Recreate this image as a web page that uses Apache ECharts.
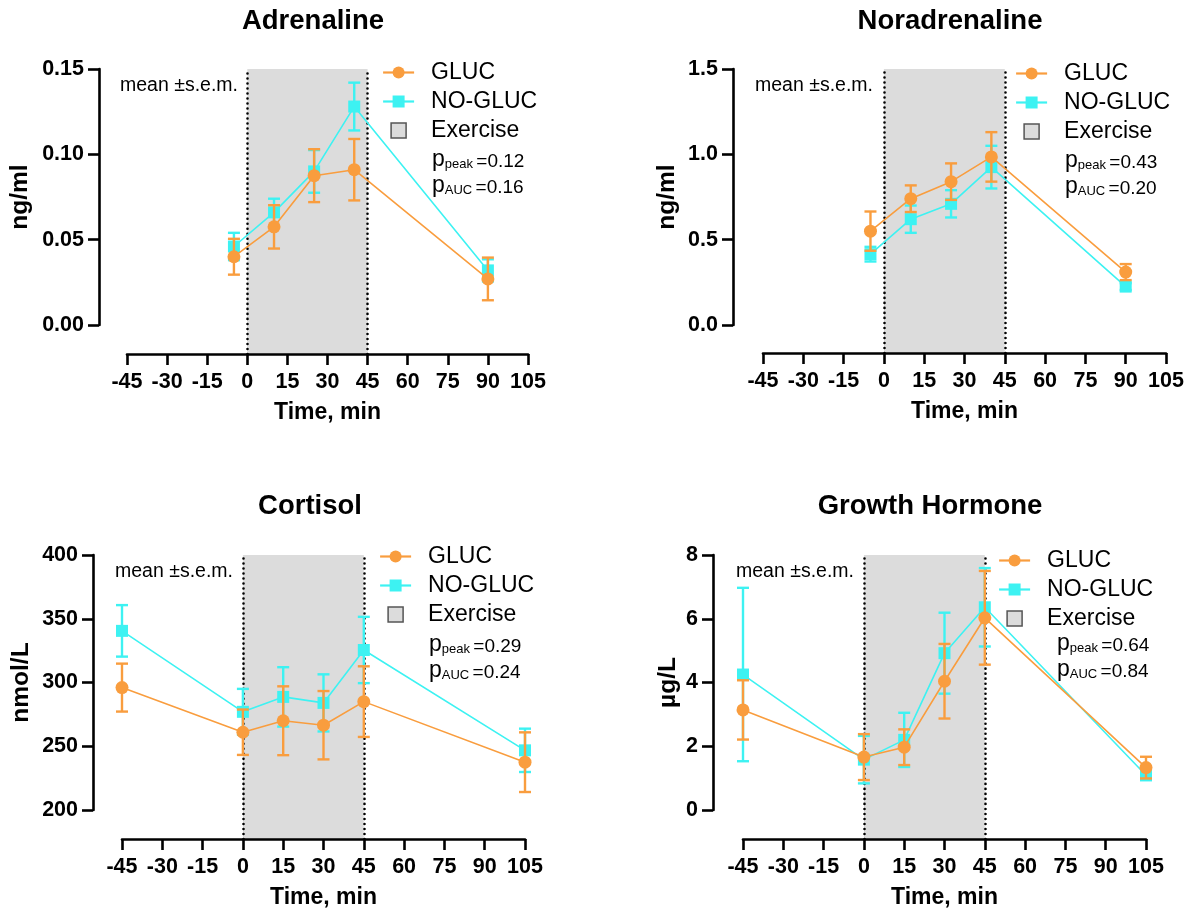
<!DOCTYPE html>
<html><head><meta charset="utf-8">
<script src="https://cdn.jsdelivr.net/npm/echarts@6/dist/echarts.min.js"></script>
<style>html,body{margin:0;padding:0;background:#fff}#c{width:1189px;height:918px}</style>
</head><body><div id="c"></div>
<script>
// ---------- data ----------
const xTicks = [-45, -30, -15, 0, 15, 30, 45, 60, 75, 90, 105];
const exerciseWindow = [0, 45];
const seriesNames = ['GLUC', 'NO-GLUC', 'Exercise'];

const timeCatecholamines = [-5, 10, 25, 40, 90];
const timeHormones = [-45, 0, 15, 30, 45, 105];

const adrTicks = [0, 0.05, 0.10, 0.15];
const adrGluc = [0.040, 0.0575, 0.0875, 0.091, 0.027];
const adrGlucSem = [0.0105, 0.0127, 0.0155, 0.018, 0.0125];
const adrNoGluc = [0.046, 0.066, 0.090, 0.128, 0.032];
const adrNoGlucSem = [0.008, 0.008, 0.0125, 0.014, 0.0065];

const noraTicks = [0, 0.5, 1.0, 1.5];
const noraGluc = [0.55, 0.74, 0.84, 0.985, 0.31];
const noraGlucSem = [0.115, 0.078, 0.107, 0.145, 0.047];
const noraNoGluc = [0.415, 0.62, 0.71, 0.925, 0.225];
const noraNoGlucSem = [0.043, 0.08, 0.08, 0.125, 0.02];

const cortTicks = [200, 250, 300, 350, 400];
const cortGluc = [296, 261, 270, 266.5, 285, 237.5];
const cortGlucSem = [18.8, 17.8, 27, 26.8, 27.7, 23.4];
const cortNoGluc = [340.5, 277, 288.7, 284, 325.5, 246.8];
const cortNoGlucSem = [20.2, 18, 23.3, 22.4, 26, 17];

const ghTicks = [0, 2, 4, 6, 8];
const ghGluc = [3.14, 1.66, 1.97, 4.04, 6.03, 1.33];
const ghGlucSem = [0.93, 0.72, 0.56, 1.17, 1.47, 0.34];
const ghNoGluc = [4.25, 1.58, 2.2, 4.92, 6.36, 1.09];
const ghNoGlucSem = [2.72, 0.745, 0.85, 1.27, 1.23, 0.15];

const titles = ['Adrenaline', 'Noradrenaline', 'Cortisol', 'Growth Hormone'];
const units = ['ng/ml', 'ng/ml', 'nmol/L', 'µg/L'];
const pPeak = ['0.12', '0.43', '0.29', '0.64'];
const pAuc = ['0.16', '0.20', '0.24', '0.84'];

// ---------- styling / layout ----------
const FONT = "'Liberation Sans', Arial, Helvetica, sans-serif";
const ORANGE = '#F99D3E';
const CYAN = '#3DF2F2';
const SHADE = '#DCDCDC';

const panels = [
  {time: timeCatecholamines, g: adrGluc, gs: adrGlucSem, n: adrNoGluc, ns: adrNoGlucSem, ticks: adrTicks, dec: 2,
   L: {yAxisX: 99, xLeft: 127, xRight: 528, yTop: 69, yZero: 325, xAxisY: 354, titleX: 313, titleY: 21, nameGap: 66,
       legX: 382, legY: 61, pX: 432, pY: [159, 185], meanX: 120, meanY: 86}},
  {time: timeCatecholamines, g: noraGluc, gs: noraGlucSem, n: noraNoGluc, ns: noraNoGlucSem, ticks: noraTicks, dec: 1,
   L: {yAxisX: 733, xLeft: 763, xRight: 1166, yTop: 69, yZero: 325, xAxisY: 353, titleX: 950, titleY: 21, nameGap: 53,
       legX: 1015, legY: 62, pX: 1065, pY: [160, 186], meanX: 755, meanY: 86}},
  {time: timeHormones, g: cortGluc, gs: cortGlucSem, n: cortNoGluc, ns: cortNoGlucSem, ticks: cortTicks, dec: 0,
   L: {yAxisX: 93, xLeft: 122, xRight: 525, yTop: 555, yZero: 810, xAxisY: 839, titleX: 310, titleY: 506, nameGap: 59,
       legX: 379, legY: 545, pX: 429, pY: [644, 670], meanX: 115, meanY: 572}},
  {time: timeHormones, g: ghGluc, gs: ghGlucSem, n: ghNoGluc, ns: ghNoGlucSem, ticks: ghTicks, dec: 0,
   L: {yAxisX: 713, xLeft: 743, xRight: 1146, yTop: 555, yZero: 810, xAxisY: 839, titleX: 930, titleY: 506, nameGap: 32,
       legX: 998, legY: 549, pX: 1057, pY: [643, 669], meanX: 736, meanY: 572}}
];

function errRenderer(color) {
  return function (params, api) {
    const x = api.value(0), y = api.value(1), e = api.value(2);
    const top = api.coord([x, y + e]);
    const bot = api.coord([x, y - e]);
    const hw = 6;
    const style = {stroke: color, lineWidth: 2.4, fill: null};
    return {type: 'group', children: [
      {type: 'line', shape: {x1: top[0], y1: top[1], x2: bot[0], y2: bot[1]}, style: style},
      {type: 'line', shape: {x1: top[0] - hw, y1: top[1], x2: top[0] + hw, y2: top[1]}, style: style},
      {type: 'line', shape: {x1: bot[0] - hw, y1: bot[1], x2: bot[0] + hw, y2: bot[1]}, style: style}
    ]};
  };
}

const axisLineStyle = {color: '#000', width: 2.6};
const option = {animation: false, backgroundColor: '#fff', grid: [], xAxis: [], yAxis: [], series: [], legend: [], graphic: []};

panels.forEach(function (P, i) {
  const L = P.L;
  const gi = option.grid.length;
  const w = L.xRight - L.xLeft;
  option.grid.push({left: L.xLeft, top: L.yTop, width: w, height: L.yZero - L.yTop});
  option.grid.push({left: L.xLeft, top: L.yTop, width: w, height: L.xAxisY - L.yTop});
  const xi = option.xAxis.length;
  option.xAxis.push({
    type: 'value', gridIndex: gi, min: xTicks[0], max: xTicks[xTicks.length - 1], interval: xTicks[1] - xTicks[0],
    position: 'bottom', offset: L.xAxisY - L.yZero, z: 20,
    axisLine: {show: true, onZero: false, lineStyle: axisLineStyle},
    axisTick: {show: true, inside: false, length: 11, lineStyle: axisLineStyle},
    axisLabel: {color: '#000', fontWeight: 'bold', fontSize: 21.5, fontFamily: FONT, margin: 17},
    splitLine: {show: false},
    name: 'Time, min', nameLocation: 'middle', nameGap: 47,
    nameTextStyle: {color: '#000', fontWeight: 'bold', fontSize: 23, fontFamily: FONT}
  });
  option.xAxis.push({type: 'value', gridIndex: gi + 1, min: xTicks[0], max: xTicks[xTicks.length - 1], show: false});
  const yi = option.yAxis.length;
  const T = P.ticks;
  option.yAxis.push({
    type: 'value', gridIndex: gi, min: T[0], max: T[T.length - 1], interval: T[1] - T[0],
    position: 'left', offset: L.xLeft - L.yAxisX, z: 20,
    axisLine: {show: true, onZero: false, lineStyle: axisLineStyle},
    axisTick: {show: true, inside: false, length: 11, lineStyle: axisLineStyle},
    axisLabel: {color: '#000', fontWeight: 'bold', fontSize: 21.5, fontFamily: FONT, margin: 15,
      formatter: (function (d) { return function (v) { return v.toFixed(d); }; })(P.dec)},
    splitLine: {show: false},
    name: units[i], nameLocation: 'middle', nameGap: L.nameGap,
    nameTextStyle: {color: '#000', fontWeight: 'bold', fontSize: 24.5, fontFamily: FONT}
  });
  option.yAxis.push({type: 'value', gridIndex: gi + 1, min: 0, max: 1, show: false});

  // exercise shading + dotted boundaries
  option.series.push({
    name: seriesNames[2], type: 'line', xAxisIndex: xi + 1, yAxisIndex: yi + 1, data: [], z: 1, silent: true,
    itemStyle: {color: SHADE}, lineStyle: {color: SHADE},
    markArea: {silent: true, itemStyle: {color: SHADE}, data: [[{xAxis: exerciseWindow[0]}, {xAxis: exerciseWindow[1]}]]},
    markLine: {silent: true, symbol: ['none', 'none'], label: {show: false},
      lineStyle: {color: '#000', type: [0.01, 5], width: 2.6, cap: 'round'},
      emphasis: {disabled: true},
      data: [{xAxis: exerciseWindow[0]}, {xAxis: exerciseWindow[1]}]}
  });
  // NO-GLUC
  option.series.push({
    name: 'NO-GLUC-sem', type: 'custom', xAxisIndex: xi, yAxisIndex: yi, z: 10, silent: true,
    renderItem: errRenderer(CYAN), data: P.time.map(function (t, k) { return [t, P.n[k], P.ns[k]]; })
  });
  option.series.push({
    name: seriesNames[1], type: 'line', xAxisIndex: xi, yAxisIndex: yi, z: 11,
    symbol: 'rect', symbolSize: 12, lineStyle: {color: CYAN, width: 1.6}, itemStyle: {color: CYAN},
    data: P.time.map(function (t, k) { return [t, P.n[k]]; })
  });
  // GLUC
  option.series.push({
    name: 'GLUC-sem', type: 'custom', xAxisIndex: xi, yAxisIndex: yi, z: 12, silent: true,
    renderItem: errRenderer(ORANGE), data: P.time.map(function (t, k) { return [t, P.g[k], P.gs[k]]; })
  });
  option.series.push({
    name: seriesNames[0], type: 'line', xAxisIndex: xi, yAxisIndex: yi, z: 13,
    symbol: 'circle', symbolSize: 13, lineStyle: {color: ORANGE, width: 1.6}, itemStyle: {color: ORANGE},
    data: P.time.map(function (t, k) { return [t, P.g[k]]; })
  });

  option.legend.push({
    left: L.legX, top: L.legY, orient: 'vertical', itemWidth: 31, itemHeight: 15, itemGap: 6, padding: 0,
    selectedMode: false,
    data: [{name: seriesNames[0]}, {name: seriesNames[1]},
      {name: seriesNames[2], icon: 'path://M0,0L10,0L10,10L0,10Z', itemStyle: {color: SHADE, borderColor: '#555', borderWidth: 1.5}}],
    textStyle: {fontSize: 23, color: '#000', fontFamily: FONT, padding: [0, 0, 0, 12]},
    lineStyle: {width: 2.2}
  });

  option.graphic.push({type: 'text', x: L.titleX, y: L.titleY, silent: true,
    style: {text: titles[i], fontSize: 27.5, fontWeight: 'bold', fontFamily: FONT, fill: '#000', align: 'center', verticalAlign: 'middle'}});
  option.graphic.push({type: 'text', x: L.meanX, y: L.meanY, silent: true,
    style: {text: 'mean ±s.e.m.', fontSize: 19.5, fontFamily: FONT, fill: '#000', align: 'left', verticalAlign: 'middle'}});
  const rich = {
    p: {fontSize: 23, fontFamily: FONT, fill: '#000', verticalAlign: 'bottom', lineHeight: 24},
    s: {fontSize: 13, fontFamily: FONT, fill: '#000', verticalAlign: 'bottom', lineHeight: 15},
    v: {fontSize: 19, fontFamily: FONT, fill: '#000', verticalAlign: 'bottom', lineHeight: 21}
  };
  option.graphic.push({type: 'text', x: L.pX, y: L.pY[0], silent: true,
    style: {text: '{p|p}{s|peak} {v|=' + pPeak[i] + '}', rich: rich, align: 'left', verticalAlign: 'middle'}});
  option.graphic.push({type: 'text', x: L.pX, y: L.pY[1], silent: true,
    style: {text: '{p|p}{s|AUC} {v|=' + pAuc[i] + '}', rich: rich, align: 'left', verticalAlign: 'middle'}});
});

const chart = echarts.init(document.getElementById('c'), null, {renderer: 'canvas'});
chart.setOption(option);
</script>
</body></html>
